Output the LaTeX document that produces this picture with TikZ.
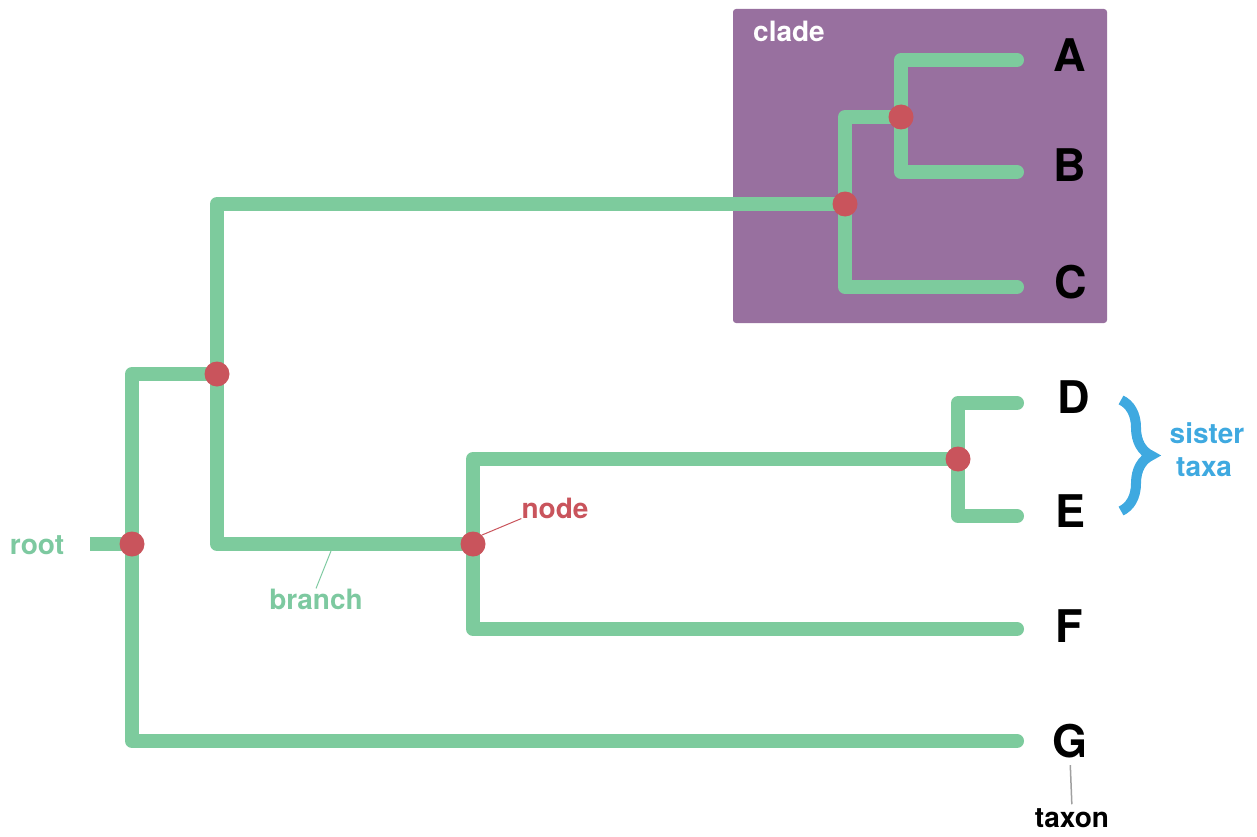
\documentclass[tikz,border=0pt]{standalone}
\usepackage{fontspec}
\setmainfont{TeX Gyre Heros}
\usetikzlibrary{decorations.pathreplacing}
\definecolor{brgreen}{HTML}{7DCB9D}
\definecolor{lblgreen}{HTML}{7DC9A0}
\definecolor{dotred}{HTML}{C9545C}
\definecolor{cladepurple}{HTML}{98709F}
\definecolor{sisblue}{HTML}{3FA9E0}
\definecolor{leadgray}{HTML}{A0A0A0}
\begin{document}
\begin{tikzpicture}[x=1pt,y=-1pt,
  branchline/.style={draw=brgreen,line width=14pt,line cap=round,line join=round},
  dotnode/.style={circle,fill=dotred,minimum size=25pt,inner sep=0pt},
  taxonlbl/.style={font=\fontsize{45}{50}\selectfont\bfseries,inner sep=0pt,text=black},
  smalllbl/.style={font=\fontsize{28}{32}\selectfont\bfseries,inner sep=0pt}]
\useasboundingbox (0,0) rectangle (1257,837);
% clade box
\fill[cladepurple,rounded corners=3pt] (733,9) rectangle (1107,323);
\node[smalllbl,text=white] (cladelbl) at (789,31) {clade};
% coordinates
\coordinate (r0) at (90,544);
\coordinate (n1) at (132,544);
\coordinate (n2) at (217,374);
\coordinate (n3) at (845,204);
\coordinate (n4) at (901,117);
\coordinate (n5) at (473,544);
\coordinate (n6) at (958,459);
\coordinate (tA) at (1017,60);
\coordinate (tB) at (1017,172);
\coordinate (tC) at (1017,287);
\coordinate (tD) at (1017,403);
\coordinate (tE) at (1017,516);
\coordinate (tF) at (1017,629);
\coordinate (tG) at (1017,741);
% branches
\draw[branchline,line cap=butt] (r0) -- (n1);
\draw[branchline] (n1) |- (n2);
\draw[branchline] (n1) |- (tG);
\draw[branchline] (n2) |- (n3);
\draw[branchline] (n2) |- (n5);
\draw[branchline] (n3) |- (n4);
\draw[branchline] (n3) |- (tC);
\draw[branchline] (n4) |- (tA);
\draw[branchline] (n4) |- (tB);
\draw[branchline] (n5) |- (n6);
\draw[branchline] (n5) |- (tF);
\draw[branchline] (n6) |- (tD);
\draw[branchline] (n6) |- (tE);
% dots
\foreach \n in {n1,n2,n3,n4,n5,n6} \node[dotnode] (d\n) at (\n) {};
% taxon labels
\node[taxonlbl] (A) at (1070,55) {A};
\node[taxonlbl] (B) at (1070,165) {B};
\node[taxonlbl] (C) at (1071,282) {C};
\node[taxonlbl] (D) at (1074,397) {D};
\node[taxonlbl] (E) at (1070,511) {E};
\node[taxonlbl] (F) at (1069,626) {F};
\node[taxonlbl] (G) at (1070,741) {G};
% other labels
\node[smalllbl,text=lblgreen] (rootlbl) at (37,545) {root};
\node[smalllbl,text=lblgreen] (branchlbl) at (316,599) {branch};
\node[smalllbl,text=dotred] (nodelbl) at (555,508) {node};
\node[smalllbl,text=black] (taxonlbl) at (1072,818) {taxon};
\node[smalllbl,text=sisblue] (sislbl) at (1207,433) {sister};
\node[smalllbl,text=sisblue] (taxalbl) at (1204,467) {taxa};
% leaders
\coordinate (bl) at (331,551);
\draw[lblgreen,line width=1pt] (bl) -- (branchlbl.north);
\draw[dotred,line width=1pt] (dn5.north east) -- (nodelbl.south west);
\draw[leadgray,line width=1.5pt,shorten <=7pt,shorten >=4pt] (G.south) -- (taxonlbl.north);
% brace
\coordinate (bt) at (1121,400);
\coordinate (bb) at (1121,511);
\draw[sisblue,line width=10pt,decorate,decoration={brace,amplitude=30pt}] (bt) -- (bb);
\end{tikzpicture}
\end{document}
